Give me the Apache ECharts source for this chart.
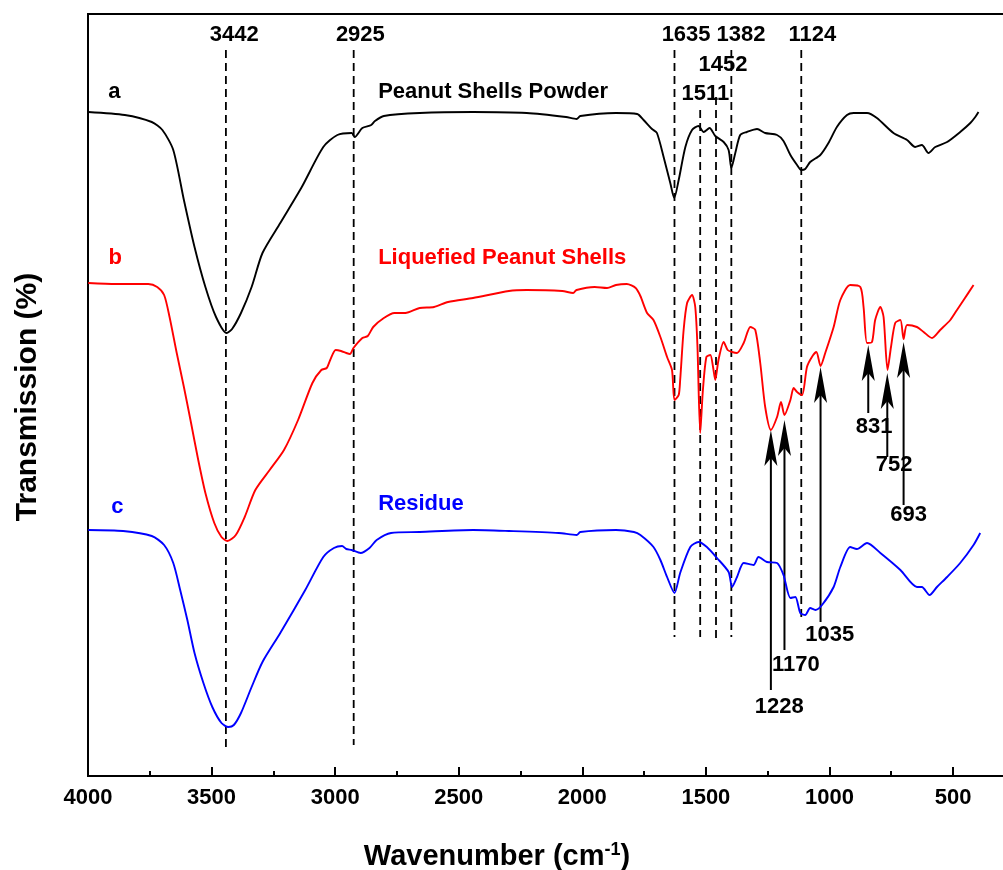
<!DOCTYPE html>
<html>
<head>
<meta charset="utf-8">
<title>FTIR spectra</title>
<script src="https://cdn.jsdelivr.net/npm/echarts@6.0.0/dist/echarts.min.js"></script>
<style>
html, body { margin: 0; padding: 0; background: #fff; }
#main { width: 1003px; height: 870px; }
</style>
</head>
<body>
<div id="main"></div>
<script>
// spectra: wavenumber (cm-1) and transmission (offset curves, arbitrary units)
const powderWave = [3999, 3851, 3742, 3699, 3655, 3612, 3569, 3525, 3482, 3439, 3417, 3381, 3338, 3294, 3222, 3135, 3048, 2991, 2933, 2921, 2890, 2854, 2839, 2803, 2658, 2442, 2225, 2066, 2023, 2008, 1864, 1778, 1752, 1718, 1698, 1671, 1644, 1628, 1610, 1583, 1556, 1530, 1509, 1485, 1462, 1428, 1408, 1397, 1381, 1361, 1334, 1293, 1260, 1212, 1186, 1158, 1131, 1114, 1098, 1078, 1037, 1004, 970, 929, 902, 848, 808, 741, 686, 653, 626, 599, 572, 524, 471, 430, 410, 397];
const powderT = [66.4, 66.1, 65.4, 64.6, 62.6, 57.6, 52.9, 48.9, 45.9, 44.3, 44.7, 46.3, 48.9, 52.3, 55.3, 58.9, 62.9, 64.1, 64.3, 63.9, 64.8, 65.1, 65.5, 66.0, 66.3, 66.4, 66.3, 65.9, 65.7, 66.0, 66.3, 66.2, 65.6, 64.7, 64.3, 61.9, 59.3, 57.8, 59.6, 62.9, 64.6, 65.0, 64.4, 64.8, 64.0, 63.4, 62.6, 60.8, 62.3, 64.1, 64.4, 64.7, 64.3, 64.1, 63.5, 62.1, 61.1, 60.6, 60.7, 61.4, 62.1, 63.3, 64.9, 66.1, 66.3, 66.3, 65.8, 64.3, 63.6, 62.9, 63.1, 62.3, 62.9, 63.4, 64.4, 65.3, 65.9, 66.4];

const liquefiedWave = [3999, 3887, 3756, 3720, 3692, 3670, 3641, 3612, 3583, 3554, 3525, 3489, 3460, 3436, 3402, 3366, 3323, 3265, 3207, 3150, 3092, 3056, 3034, 3020, 2998, 2976, 2955, 2940, 2926, 2890, 2868, 2846, 2803, 2760, 2716, 2658, 2600, 2543, 2442, 2297, 2225, 2081, 2037, 2023, 1950, 1900, 1864, 1820, 1784, 1765, 1738, 1712, 1684, 1657, 1637, 1627, 1610, 1604, 1590, 1576, 1556, 1543, 1534, 1523, 1512, 1498, 1482, 1471, 1462, 1449, 1428, 1412, 1394, 1374, 1347, 1320, 1300, 1280, 1260, 1237, 1212, 1196, 1182, 1158, 1145, 1131, 1111, 1091, 1071, 1053, 1036, 1017, 983, 956, 916, 875, 862, 848, 828, 815, 794, 781, 765, 751, 734, 713, 700, 686, 646, 619, 585, 552, 511, 484, 457, 417];
const liquefiedT = [49.3, 49.2, 49.2, 48.9, 48.1, 45.9, 42.3, 38.9, 35.3, 31.6, 28.3, 25.3, 23.9, 23.5, 24.1, 25.9, 28.6, 30.6, 32.6, 35.6, 39.3, 40.6, 40.8, 41.6, 42.6, 42.5, 42.3, 42.2, 42.8, 43.8, 44.0, 44.9, 45.8, 46.3, 46.3, 46.8, 46.9, 47.4, 47.8, 48.5, 48.6, 48.5, 48.3, 48.6, 48.9, 48.8, 49.1, 49.2, 48.8, 48.0, 46.3, 45.6, 43.9, 41.9, 40.6, 37.6, 38.1, 39.6, 44.6, 47.3, 48.1, 46.9, 42.9, 34.3, 38.6, 41.9, 42.1, 40.9, 39.6, 41.6, 43.4, 42.6, 42.4, 42.3, 43.3, 44.9, 44.6, 41.3, 36.9, 34.6, 35.9, 37.4, 36.1, 37.6, 38.8, 38.4, 38.1, 40.9, 41.9, 42.4, 41.0, 42.3, 44.9, 47.6, 49.1, 48.9, 46.9, 43.3, 43.4, 45.6, 46.9, 45.9, 40.6, 42.9, 45.3, 45.6, 43.7, 45.1, 44.9, 44.4, 43.8, 44.6, 45.6, 46.6, 47.6, 49.1];

const residueWave = [3999, 3858, 3742, 3692, 3655, 3627, 3598, 3569, 3533, 3497, 3460, 3432, 3410, 3381, 3338, 3294, 3222, 3121, 3048, 3005, 2972, 2955, 2933, 2897, 2861, 2832, 2774, 2658, 2442, 2297, 2095, 2023, 2008, 1864, 1791, 1765, 1712, 1684, 1657, 1627, 1604, 1563, 1530, 1496, 1455, 1408, 1394, 1374, 1347, 1307, 1287, 1253, 1212, 1186, 1158, 1138, 1118, 1098, 1078, 1057, 1030, 983, 956, 916, 889, 848, 794, 713, 646, 626, 595, 565, 524, 471, 417, 390];
const residueT = [24.6, 24.5, 24.0, 23.1, 21.3, 18.6, 15.6, 12.3, 9.3, 6.9, 5.3, 4.9, 5.1, 6.3, 8.9, 11.4, 14.3, 18.6, 21.9, 22.8, 23.0, 22.7, 22.6, 22.3, 22.8, 23.6, 24.3, 24.4, 24.6, 24.5, 24.3, 24.1, 24.4, 24.6, 24.4, 24.1, 22.9, 21.6, 19.9, 18.3, 20.3, 22.9, 23.4, 22.9, 21.8, 20.4, 18.9, 19.9, 21.3, 21.1, 21.9, 21.4, 21.3, 20.1, 17.8, 17.9, 16.3, 16.1, 16.8, 16.6, 17.1, 18.9, 20.9, 22.9, 22.7, 23.3, 22.3, 20.6, 18.9, 18.9, 18.1, 18.9, 19.9, 21.3, 23.1, 24.3];

// peaks marked with dashed lines: label text and where the line is drawn
const dashedLabels = ['3442', '2925', '1635', '1511', '1452', '1382', '1124'];
const dashedWave = [3442, 2925, 1627, 1523, 1459, 1397, 1114];

// peaks marked with arrows
const arrowLabels = ['1228', '1170', '1035', '831', '752', '693'];
const arrowWave = [1237, 1182, 1036, 843, 766, 700];

const curveNames = ['Peanut Shells Powder', 'Liquefied Peanut Shells', 'Residue'];
const curveTags = ['a', 'b', 'c'];

const FONT = '"Liberation Sans", Arial, sans-serif';
const colors = ['#000000', '#ff0000', '#0000ff'];

// layout of the annotations (axis units)
const dashTop = [72.6, 72.6, 72.6, 66.6, 67.9, 72.6, 72.6];
const dashBottom = [2.8, 3.1, 13.9, 13.9, 13.3, 13.9, 15.9];
const dashText = [[3408, 74.1], [2898, 74.1], [1580, 74.1], [1502, 68.2], [1431, 71.1], [1358, 74.1], [1069, 74.1]];
const arrowTip = [34.6, 35.6, 40.9, 43.1, 40.3, 43.4];
const arrowBase = [8.6, 12.6, 15.4, 36.3, 31.9, 27.1];
const arrowText = [[1203, 6.9], [1136, 11.1], [999, 14.1], [819, 34.9], [738, 31.1], [680, 26.1]];

const notes = [];
dashedLabels.forEach((t, i) => notes.push({ text: t, at: dashText[i], color: '#000', align: 'center' }));
arrowLabels.forEach((t, i) => notes.push({ text: t, at: arrowText[i], color: '#000', align: 'center' }));
notes.push({ text: curveTags[0], at: [3893, 68.4], color: colors[0], align: 'center' });
notes.push({ text: curveTags[1], at: [3890, 51.8], color: colors[1], align: 'center' });
notes.push({ text: curveTags[2], at: [3881, 26.9], color: colors[2], align: 'center' });
notes.push({ text: curveNames[0], at: [2826, 68.4], color: colors[0], align: 'left' });
notes.push({ text: curveNames[1], at: [2826, 51.8], color: colors[1], align: 'left' });
notes.push({ text: curveNames[2], at: [2826, 27.2], color: colors[2], align: 'left' });

function zip(xs, ys) { return xs.map((x, i) => [x, ys[i]]); }

function spectrum(name, xs, ys, color) {
  return {
    name: name, type: 'line', data: zip(xs, ys), showSymbol: false,
    smooth: 0.25,
    lineStyle: { color: color, width: 1.9 }, silent: true
  };
}

const chart = echarts.init(document.getElementById('main'));
chart.setOption({
  animation: false,
  backgroundColor: '#fff',
  grid: { left: 88, top: 14, width: 988.6, height: 762, show: true, borderColor: '#000', borderWidth: 2, outerBoundsMode: 'none' },
  xAxis: {
    type: 'value', inverse: true, min: 0, max: 4000, interval: 500,
    axisLine: { lineStyle: { color: '#000', width: 2 } },
    axisTick: { inside: true, length: 9, lineStyle: { color: '#000', width: 2 } },
    minorTick: { show: true, splitNumber: 2, length: 5, lineStyle: { color: '#000', width: 2 } },
    axisLabel: {
      color: '#000', fontSize: 22, fontWeight: 'bold', fontFamily: FONT, margin: 11,
      formatter: v => (v === 0 ? '' : String(v))
    },
    splitLine: { show: false }
  },
  yAxis: {
    type: 'value', min: 0, max: 76.2,
    axisLine: { show: true, lineStyle: { color: '#000', width: 2 } },
    axisTick: { show: false }, axisLabel: { show: false }, splitLine: { show: false }
  },
  graphic: [
    {
      type: 'text', x: 28, y: 397, rotation: Math.PI / 2,
      style: { text: 'Transmission (%)', font: 'bold 30px ' + FONT, fill: '#000', align: 'center', verticalAlign: 'middle' }
    },
    {
      type: 'text', x: 497, y: 857,
      style: {
        text: 'Wavenumber (cm{sup|-1})', font: 'bold 29px ' + FONT, fill: '#000',
        align: 'center', verticalAlign: 'middle',
        rich: { sup: { font: 'bold 18px ' + FONT, fill: '#000', verticalAlign: 'top', padding: [0, 0, 14, 0] } }
      }
    }
  ],
  series: [
    spectrum(curveNames[0], powderWave, powderT, colors[0]),
    spectrum(curveNames[1], liquefiedWave, liquefiedT, colors[1]),
    spectrum(curveNames[2], residueWave, residueT, colors[2]),
    {
      type: 'custom', name: 'dashed', silent: true, clip: false,
      data: dashedWave.map((w, i) => [w, dashTop[i], dashBottom[i]]),
      renderItem: function (params, api) {
        const a = api.coord([api.value(0), api.value(1)]);
        const b = api.coord([api.value(0), api.value(2)]);
        return {
          type: 'line', shape: { x1: a[0], y1: a[1], x2: b[0], y2: b[1] },
          style: { stroke: '#000', lineWidth: 1.8, lineDash: [8, 5] }
        };
      }
    },
    {
      type: 'custom', name: 'arrows', silent: true, clip: false,
      data: arrowWave.map((w, i) => [w, arrowBase[i], arrowTip[i]]),
      renderItem: function (params, api) {
        const b = api.coord([api.value(0), api.value(1)]);
        const t = api.coord([api.value(0), api.value(2)]);
        const x = t[0], y = t[1];
        return {
          type: 'group',
          children: [
            { type: 'line', shape: { x1: x, y1: b[1], x2: x, y2: y + 24 }, style: { stroke: '#000', lineWidth: 2 } },
            { type: 'polygon', shape: { points: [[x, y], [x + 6.5, y + 36], [x, y + 28], [x - 6.5, y + 36]] }, style: { fill: '#000' } }
          ]
        };
      }
    },
    {
      type: 'custom', name: 'notes', silent: true, clip: false,
      data: notes.map(n => n.at),
      renderItem: function (params, api) {
        const n = notes[params.dataIndex];
        const p = api.coord([api.value(0), api.value(1)]);
        return {
          type: 'text', x: p[0], y: p[1],
          style: { text: n.text, font: 'bold 22px ' + FONT, fill: n.color, align: n.align, verticalAlign: 'middle' }
        };
      }
    }
  ]
});
</script>
</body>
</html>
